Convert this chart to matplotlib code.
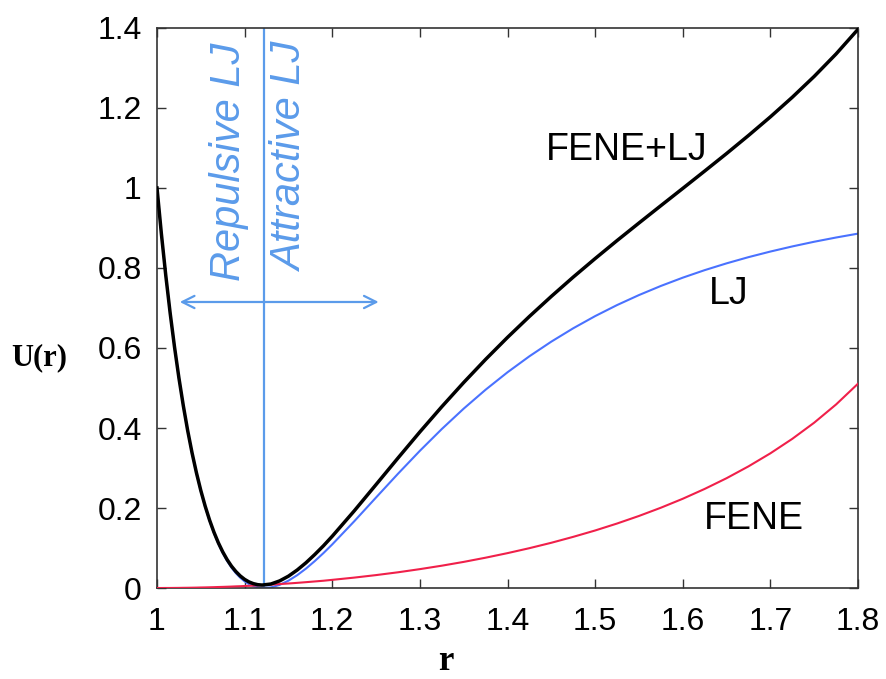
import matplotlib
matplotlib.use("Agg")
import matplotlib.pyplot as plt

# ---- data ----
r = [1.000, 1.005, 1.010, 1.015, 1.020, 1.025, 1.030, 1.035, 1.040, 1.045,
     1.050, 1.055, 1.060, 1.065, 1.070, 1.075, 1.080, 1.085, 1.090, 1.095,
     1.100, 1.105, 1.110, 1.115, 1.12, 1.13, 1.14, 1.15, 1.16, 1.17,
     1.18, 1.19, 1.20, 1.225, 1.25, 1.275, 1.30, 1.325, 1.35, 1.375,
     1.40, 1.425, 1.45, 1.475, 1.50, 1.525, 1.55, 1.575, 1.60, 1.625,
     1.65, 1.675, 1.70, 1.725, 1.75, 1.775, 1.80]

u_lj = [1.0000, 0.8855, 0.7816, 0.6874, 0.6021, 0.5250, 0.4556, 0.3931, 0.3371, 0.2871,
        0.2425, 0.2030, 0.1680, 0.1374, 0.1107, 0.0876, 0.0678, 0.0510, 0.0371, 0.0257,
        0.0166, 0.0097, 0.0048, 0.0017, 0.0002, 0.0015, 0.0079, 0.0183, 0.0321, 0.0485,
        0.0672, 0.0874, 0.1090, 0.1666, 0.2263, 0.2856, 0.3430, 0.3974, 0.4484, 0.4957,
        0.5393, 0.5793, 0.6159, 0.6493, 0.6797, 0.7073, 0.7323, 0.7551, 0.7758, 0.7946,
        0.8116, 0.8271, 0.8411, 0.8539, 0.8656, 0.8762, 0.8859]

u_fene = [0.0000, 0.0000, 0.0001, 0.0001, 0.0002, 0.0003, 0.0005, 0.0006, 0.0008, 0.0010,
          0.0013, 0.0015, 0.0018, 0.0021, 0.0025, 0.0028, 0.0032, 0.0036, 0.0041, 0.0045,
          0.0050, 0.0055, 0.0061, 0.0066, 0.0072, 0.0085, 0.0099, 0.0113, 0.0129, 0.0146,
          0.0164, 0.0182, 0.0204, 0.0260, 0.0323, 0.0393, 0.0472, 0.0558, 0.0653, 0.0758,
          0.0872, 0.0996, 0.1131, 0.1279, 0.1438, 0.1612, 0.1801, 0.2007, 0.2231, 0.2477,
          0.2745, 0.3041, 0.3367, 0.3729, 0.4133, 0.4589, 0.5108]

u_total = [1.0000, 0.8855, 0.7817, 0.6875, 0.6023, 0.5253, 0.4561, 0.3937, 0.3379, 0.2881,
           0.2437, 0.2045, 0.1698, 0.1395, 0.1131, 0.0904, 0.0710, 0.0546, 0.0412, 0.0302,
           0.0216, 0.0152, 0.0109, 0.0083, 0.0074, 0.0100, 0.0178, 0.0296, 0.0450, 0.0631,
           0.0836, 0.1056, 0.1294, 0.1926, 0.2586, 0.3249, 0.3902, 0.4532, 0.5137, 0.5715,
           0.6265, 0.6789, 0.7290, 0.7772, 0.8235, 0.8685, 0.9124, 0.9558, 0.9989, 1.0423,
           1.0861, 1.1312, 1.1778, 1.2268, 1.2789, 1.3351, 1.3967]

r_min = 1.1225          # boundary between repulsive and attractive LJ
arrow_y = 0.715
arrow_x = [1.026, 1.253]

xticks = [1.0, 1.1, 1.2, 1.3, 1.4, 1.5, 1.6, 1.7, 1.8]
xtick_labels = ["1", "1.1", "1.2", "1.3", "1.4", "1.5", "1.6", "1.7", "1.8"]
yticks = [0, 0.2, 0.4, 0.6, 0.8, 1.0, 1.2, 1.4]
ytick_labels = ["0", "0.2", "0.4", "0.6", "0.8", "1", "1.2", "1.4"]

# ---- figure ----
plt.rcParams['font.family'] = ['Liberation Sans', 'DejaVu Sans']
fig = plt.figure(figsize=(8.86, 6.79), dpi=100)
ax = fig.add_axes([0.1772, 0.134, 0.7912, 0.8248])

light_blue = "#5b9bea"

ax.axvline(r_min, color=light_blue, lw=1.6, zorder=1)
ax.annotate("", xy=(arrow_x[0], arrow_y), xytext=(arrow_x[1], arrow_y),
            arrowprops=dict(arrowstyle="<->", color=light_blue, lw=1.6,
                            mutation_scale=22, shrinkA=0, shrinkB=0), zorder=1)

ax.plot(r, u_lj, color="#4a72ff", lw=1.5, zorder=2)
ax.plot(r, u_fene, color="#f0204a", lw=1.5, zorder=3)
ax.plot(r, u_total, color="black", lw=2.5, zorder=4,
        solid_joinstyle="round")

ax.text(1.0823, 1.3625, "Repulsive LJ", rotation=90, ha="center", va="top",
        color=light_blue, fontsize=30, style="italic")
ax.text(1.153, 1.3625, "Attractive LJ", rotation=90, ha="center", va="top",
        color=light_blue, fontsize=30, style="italic")

ax.text(1.536, 1.095, "FENE+LJ", ha="center", va="center", fontsize=27)
ax.text(1.6526, 0.735, "LJ", ha="center", va="center", fontsize=27)
ax.text(1.681, 0.1725, "FENE", ha="center", va="center", fontsize=27)

ax.set_xlim(1.0, 1.8)
ax.set_ylim(0, 1.4)
ax.set_xticks(xticks)
ax.set_xticklabels(xtick_labels)
ax.set_yticks(yticks)
ax.set_yticklabels(ytick_labels)
ax.tick_params(direction="in", length=6.5, width=1.0, labelsize=23,
               top=True, right=True, color="#333333")
ax.tick_params(axis="x", pad=14)
ax.tick_params(axis="y", pad=11)
for s in ax.spines.values():
    s.set_color("#333333")
    s.set_linewidth(1.2)

ax.set_xlabel("r", fontsize=25, fontweight="bold", family="Liberation Serif",
              va="baseline")
ax.xaxis.set_label_coords(0.4115, -0.147)
ax.set_ylabel("U(r)", fontsize=22, fontweight="bold", family="Liberation Serif",
              rotation=0, ha="center", va="center")
ax.yaxis.set_label_coords(-0.168, 0.411)

fig.savefig("out.png", dpi=100)
